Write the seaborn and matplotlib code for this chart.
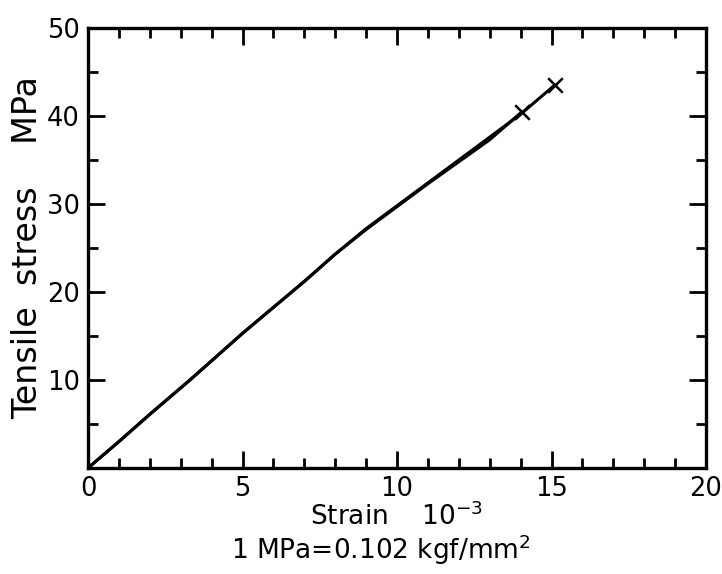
import numpy as np
import pandas as pd
import matplotlib
matplotlib.use("Agg")
import matplotlib.pyplot as plt
from matplotlib.ticker import MultipleLocator
import seaborn as sns

#%% data
strain_a = [0, 1.0, 2.0, 3.3, 5.0, 7.0, 8.0, 9.0, 10.0, 11.0, 12.0, 13.0, 14.0, 15.1]
stress_a = [0, 3.0, 6.1, 10.0, 15.3, 21.2, 24.3, 27.2, 29.8, 32.4, 35.0, 37.6, 40.2, 43.5]
strain_b = [0, 1.0, 2.0, 3.3, 5.0, 7.0, 8.0, 9.0, 10.0, 11.0, 12.0, 13.0, 14.05]
stress_b = [0, 3.0, 6.1, 10.0, 15.3, 21.2, 24.3, 27.1, 29.7, 32.3, 34.8, 37.3, 40.5]

df = pd.concat([
    pd.DataFrame({"strain": strain_a, "stress": stress_a, "run": "a"}),
    pd.DataFrame({"strain": strain_b, "stress": stress_b, "run": "b"}),
])

#%% plot
sns.set_style("ticks", {"axes.edgecolor": "black", "xtick.color": "black",
                        "ytick.color": "black", "text.color": "black",
                        "axes.labelcolor": "black"})
plt.rcParams["font.family"] = ["DejaVu Sans"]

fig = plt.figure(figsize=(7.22, 5.74), dpi=100)
ax = fig.add_axes([88 / 722, 1 - 468 / 574, 618 / 722, 440 / 574])

sns.lineplot(data=df, x="strain", y="stress", units="run", estimator=None,
             color="black", linewidth=2.2, sort=False, ax=ax)

ends = df.groupby("run").last()
ax.scatter(ends["strain"], ends["stress"], marker="x", s=110, color="black",
           linewidths=1.8, zorder=3)

ax.set_xlim(0, 20)
ax.set_ylim(0, 50)
ax.xaxis.set_major_locator(MultipleLocator(5))
ax.xaxis.set_minor_locator(MultipleLocator(1))
ax.yaxis.set_major_locator(MultipleLocator(10))
ax.yaxis.set_minor_locator(MultipleLocator(5))
ax.set_yticks([10, 20, 30, 40, 50])
ax.tick_params(which="both", direction="in", top=True, right=True, width=2,
               labelsize=18.5, pad=6, colors="black")
ax.tick_params(which="major", length=12)
ax.tick_params(which="minor", length=7)
for sp in ax.spines.values():
    sp.set_linewidth(2.4)
    sp.set_color("black")

ax.set_xlabel("Strain    $10^{-3}$", fontsize=19, labelpad=0)
ax.set_ylabel("Tensile  stress    MPa", fontsize=24, labelpad=2)
fig.text(0.527, 1 - 550 / 574, "1 MPa=0.102 kgf/mm$^2$", fontsize=19,
         ha="center", va="center")

fig.savefig("out.png", dpi=100)
